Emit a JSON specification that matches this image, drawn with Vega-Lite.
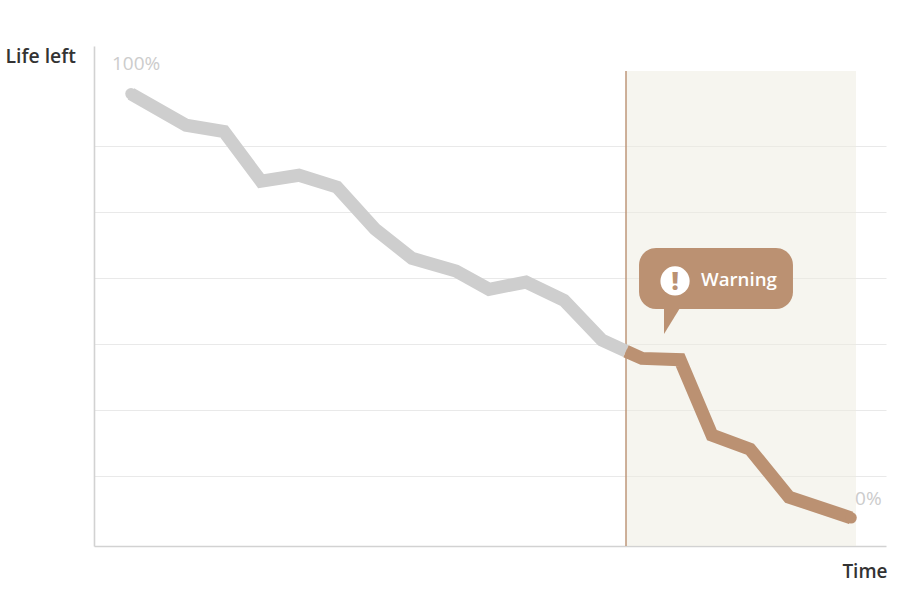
{
"$schema":"https://vega.github.io/schema/vega-lite/v6.json",
"width":792,"height":500,"autosize":"none",
"padding":{"left":94,"top":46,"right":35,"bottom":43},
"background":"white",
"config":{"view":{"stroke":null},"font":"Open Sans"},
"datasets":{
"life":[
{"time":0,"life":99.8,"phase":"Normal"},{"time":7.64,"life":92.4,"phase":"Normal"},{"time":12.92,"life":90.9,"phase":"Normal"},{"time":18.06,"life":79.2,"phase":"Normal"},{"time":23.33,"life":80.6,"phase":"Normal"},{"time":28.61,"life":77.8,"phase":"Normal"},{"time":33.89,"life":67.9,"phase":"Normal"},{"time":39.03,"life":61.0,"phase":"Normal"},{"time":45.14,"life":58.0,"phase":"Normal"},{"time":49.72,"life":53.7,"phase":"Normal"},{"time":54.86,"life":55.4,"phase":"Normal"},{"time":60.14,"life":51.1,"phase":"Normal"},{"time":65.42,"life":41.7,"phase":"Normal"},{"time":68.75,"life":39.1,"phase":"Normal"},
{"time":68.75,"life":39.1,"phase":"Warning"},{"time":70.97,"life":37.4,"phase":"Warning"},{"time":76.25,"life":37.1,"phase":"Warning"},{"time":80.69,"life":19.3,"phase":"Warning"},{"time":85.97,"life":16.0,"phase":"Warning"},{"time":91.39,"life":4.7,"phase":"Warning"},{"time":100,"life":-0.2,"phase":"Warning"}
]},
"encoding":{
"x":{"field":"time","type":"quantitative","scale":{"domain":[-5.139,104.861],"nice":false,"zero":false},
"axis":{"title":"Time","labels":false,"ticks":false,"grid":false,"domainColor":"#d2d2d2","domainWidth":1.6,"titleX":793,"titleY":31,"titleAlign":"right","titleBaseline":"alphabetic","titleFontSize":19,"titleFontWeight":600,"titleColor":"#333333","titleFont":"Open Sans"}},
"y":{"field":"life","type":"quantitative","scale":{"domain":[-6.84,111.08],"nice":false,"zero":false},
"axis":{"title":"Life left","labels":false,"ticks":false,"values":[9.67,25.24,40.8,56.37,71.93,87.5],"grid":true,"gridColor":"#e9e9e9","gridWidth":1.2,"domainColor":"#d2d2d2","domainWidth":1.6,"titleX":-89,"titleY":16,"titleAngle":0,"titleAlign":"left","titleBaseline":"alphabetic","titleFontSize":19.4,"titleFontWeight":600,"titleColor":"#333333","titleFont":"Open Sans"}}
},
"layer":[
{"data":{"values":[{"time":68.75,"timeEnd":100.69,"life":-6.84,"lifeEnd":105.19}]},
 "mark":{"type":"rect","fill":"#eeebe0","opacity":0.5},
 "encoding":{"x2":{"field":"timeEnd"},"y2":{"field":"lifeEnd"}}},
{"data":{"values":[{"time":68.75,"life":-6.84,"lifeEnd":105.19}]},
 "mark":{"type":"rule","color":"#bb9172","strokeWidth":1.5,"opacity":0.95},
 "encoding":{"y2":{"field":"lifeEnd"}}},
{"data":{"name":"life"},
 "mark":{"type":"line","strokeWidth":13,"strokeCap":"butt","strokeJoin":"miter","interpolate":"linear"},
 "encoding":{"color":{"field":"phase","type":"nominal","legend":null,"scale":{"domain":["Normal","Warning"],"range":["#cecece","#bb9172"]}},"order":{"field":"time"}}},
{"data":{"values":[{"time":0,"life":99.8,"phase":"Normal"},{"time":100,"life":-0.2,"phase":"Warning"}]},
 "mark":{"type":"point","shape":"circle","filled":true,"size":133,"opacity":1},
 "encoding":{"color":{"field":"phase","type":"nominal","legend":null,"scale":{"domain":["Normal","Warning"],"range":["#cecece","#bb9172"]}}}},
{"data":{"values":[{"time":70.56,"timeEnd":91.94,"life":63.44,"lifeEnd":49.06}]},
 "mark":{"type":"rect","fill":"#bb9172","cornerRadius":17},
 "encoding":{"x2":{"field":"timeEnd"},"y2":{"field":"lifeEnd"}}},
{"data":{"values":[{"time":74.03,"life":49.3,"lifeEnd":43.16},{"time":76.25,"life":49.3,"lifeEnd":49.3}]},
 "mark":{"type":"area","fill":"#bb9172","interpolate":"linear"},
 "encoding":{"y2":{"field":"lifeEnd"}}},
{"data":{"values":[{"time":75.56,"life":55.66}]},
 "mark":{"type":"point","shape":"circle","filled":true,"fill":"white","size":855,"opacity":1,"stroke":null}},
{"data":{"values":[{"time":75.56,"life":55.4,"label":"!"}]},
 "mark":{"type":"text","align":"center","baseline":"middle","font":"Open Sans","fontSize":25,"fontWeight":800,"color":"#bb9172"},
 "encoding":{"text":{"field":"label"}}},
{"data":{"values":[{"time":79.17,"life":56.0,"label":"Warning"}]},
 "mark":{"type":"text","align":"left","baseline":"middle","font":"Open Sans","fontSize":18.7,"fontWeight":600,"color":"white"},
 "encoding":{"text":{"field":"label"}}},
{"data":{"values":[{"time":-2.64,"life":106.95,"label":"100%"},{"time":100.56,"life":4.15,"label":"0%"}]},
 "mark":{"type":"text","align":"left","baseline":"middle","font":"Open Sans","fontSize":19,"color":"#cccccc"},
 "encoding":{"text":{"field":"label"}}}
]
}
